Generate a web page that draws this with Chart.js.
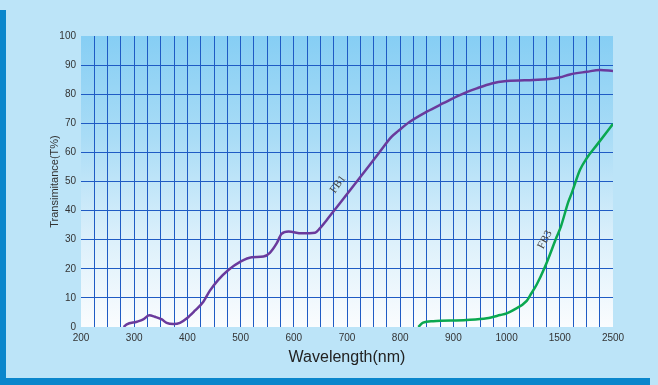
<!DOCTYPE html>
<html>
<head>
<meta charset="utf-8">
<script src="https://cdn.jsdelivr.net/npm/chart.js@4.4.1/dist/chart.umd.min.js"></script>
<style>
  html, body { margin: 0; padding: 0; background: #bce4f8; }
  #wrap { width: 658px; height: 385px; position: relative; }
</style>
</head>
<body>
<div id="wrap"><canvas id="myChart"></canvas></div>
<script>
const tickLabels = ["200", "300", "400", "500", "600", "700", "800", "900", "1000", "1500", "2500"];

const fb1Wavelength = [280, 286, 305, 317, 328, 339, 352, 361, 374, 386, 399, 414, 430, 442, 458, 477, 499, 521, 543, 555, 568, 577, 590, 615, 640, 649, 662, 674, 724, 760, 784, 796, 818, 850, 881, 912, 944, 972, 1001, 1251, 1377, 1504, 1692, 2006, 2256, 2500];
const fb1Values = [0, 0.9, 1.8, 2.6, 4.0, 3.5, 2.6, 1.4, 1.0, 1.4, 3.0, 5.6, 8.7, 12.4, 16.2, 19.6, 22.4, 24.0, 24.2, 25.5, 28.8, 32.0, 32.8, 32.2, 32.4, 33.9, 36.8, 39.6, 51.3, 59.8, 65.4, 67.3, 70.5, 74.0, 76.9, 79.7, 82.0, 83.7, 84.5, 84.9, 85.1, 85.8, 86.8, 87.7, 88.3, 88.0];

const fb3Wavelength = [834, 843, 862, 925, 963, 988, 1001, 1063, 1189, 1220, 1283, 1361, 1471, 1520, 1660, 1724, 1880, 2006, 2194, 2500];
const fb3Values = [0, 1.5, 2.0, 2.4, 3.0, 4.1, 4.7, 5.8, 9.0, 10.8, 14.6, 20.7, 31.0, 34.5, 43.0, 46.0, 54.0, 58.0, 62.5, 69.8];

// curve names written along the lines
const curveNames = [
  { text: "FB1", nm: 683, value: 49, angle: -54 },
  { text: "FB3", nm: 1361, value: 30, angle: -62 },
];

// x axis is uneven: 200..1000 by 100, then 1500 and 2500 at the same spacing
const toAxis = (nm) => {
  if (nm <= 1000) return (nm - 200) / 100;
  if (nm <= 1500) return 8 + (nm - 1000) / 500;
  return 9 + (nm - 1500) / 1000;
};

const points = (xs, ys) => xs.map((nm, i) => ({ x: toAxis(nm), y: ys[i] }));

const backdrop = {
  id: "backdrop",
  beforeDraw(chart) {
    const { ctx, chartArea: a } = chart;
    ctx.save();
    ctx.fillStyle = "#bce4f8";
    ctx.fillRect(0, 0, chart.width, chart.height);
    ctx.fillStyle = "#0a86cc";
    ctx.fillRect(0, 10, 6, 368);
    ctx.fillRect(0, 378, 650, 7);
    const g = ctx.createLinearGradient(0, a.top, 0, a.bottom);
    g.addColorStop(0, "#86cef4");
    g.addColorStop(0.35, "#a9dcf6");
    g.addColorStop(0.7, "#dcf0fb");
    g.addColorStop(1, "#fafcfe");
    ctx.fillStyle = g;
    ctx.fillRect(a.left, a.top, a.right - a.left, a.bottom - a.top);
    ctx.restore();
  },
  afterDatasetsDraw(chart) {
    const { ctx, scales } = chart;
    ctx.save();
    ctx.font = '11px "Liberation Serif"';
    ctx.fillStyle = "#444";
    ctx.textAlign = "center";
    ctx.textBaseline = "middle";
    curveNames.forEach(c => {
      ctx.save();
      ctx.translate(scales.x.getPixelForValue(toAxis(c.nm)), scales.y.getPixelForValue(c.value));
      ctx.rotate(c.angle * Math.PI / 180);
      ctx.fillText(c.text, 0, 0);
      ctx.restore();
    });
    ctx.restore();
  }
};

const gridColor = (ctx, lo, hi) =>
  ctx.tick && (ctx.tick.value === lo || ctx.tick.value === hi) ? "rgba(0,0,0,0)" : "#1f5bc4";

new Chart(document.getElementById("myChart"), {
  type: "line",
  data: {
    datasets: [
      {
        label: "FB1",
        data: points(fb1Wavelength, fb1Values),
        borderColor: "#6a3a9c",
        borderWidth: 2.5,
        pointRadius: 0,
        cubicInterpolationMode: "monotone",
      },
      {
        label: "FB3",
        data: points(fb3Wavelength, fb3Values),
        borderColor: "#0aa850",
        borderWidth: 2.5,
        pointRadius: 0,
        cubicInterpolationMode: "monotone",
      },
    ],
  },
  options: {
    responsive: true,
    maintainAspectRatio: false,
    animation: false,
    layout: { padding: { top: 36, right: 45, left: 0, bottom: 0 } },
    plugins: { legend: { display: false }, tooltip: { enabled: false } },
    scales: {
      x: {
        type: "linear",
        min: 0,
        max: 10,
        border: { display: false },
        grid: { color: (c) => gridColor(c, 0, 10), lineWidth: 1, drawTicks: false },
        ticks: {
          stepSize: 0.25,
          autoSkip: false,
          maxRotation: 0,
          padding: 5,
          color: "#333",
          font: { family: "Liberation Sans", size: 10 },
          callback: (v) => (Number.isInteger(v) ? tickLabels[v] : ""),
        },
        title: {
          display: true,
          text: "Wavelength(nm)",
          color: "#222",
          font: { family: "Liberation Sans", size: 16 },
          padding: { top: 18, bottom: 18 },
        },
        afterFit: (s) => { s.height = 58; },
      },
      y: {
        min: 0,
        max: 100,
        border: { display: false },
        grid: { color: (c) => gridColor(c, 0, 100), lineWidth: 1, drawTicks: false },
        ticks: {
          stepSize: 10,
          padding: 5,
          color: "#333",
          font: { family: "Liberation Sans", size: 10 },
        },
        title: {
          display: true,
          text: "Transimitance(T%)",
          color: "#333",
          font: { family: "Liberation Sans", size: 11 },
          padding: { top: 48, bottom: 48 },
        },
        afterFit: (s) => { s.width = 81; },
      },
    },
  },
  plugins: [backdrop],
});
</script>
</body>
</html>
